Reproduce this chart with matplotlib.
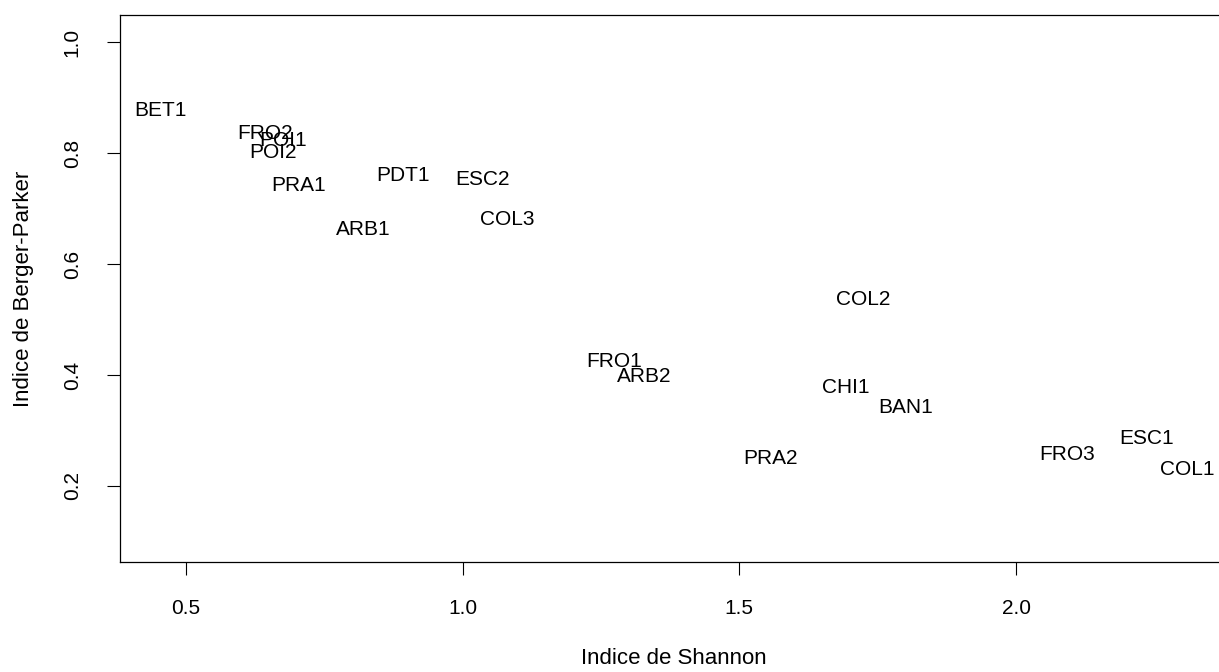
import matplotlib.pyplot as plt

plt.rcParams['font.family'] = ['Liberation Sans', 'DejaVu Sans']

sites = ['BET1', 'FRO2', 'POI1', 'POI2', 'PRA1', 'PDT1', 'ESC2', 'COL3', 'ARB1',
         'COL2', 'FRO1', 'ARB2', 'CHI1', 'BAN1', 'PRA2', 'FRO3', 'ESC1', 'COL1']
shannon = [0.455, 0.643, 0.675, 0.657, 0.704, 0.892, 1.036, 1.081, 0.821,
           1.724, 1.274, 1.329, 1.693, 1.801, 1.556, 2.092, 2.236, 2.309]
berger = [0.877, 0.836, 0.823, 0.802, 0.742, 0.759, 0.753, 0.681, 0.663,
          0.537, 0.425, 0.398, 0.377, 0.341, 0.249, 0.256, 0.286, 0.229]

fig = plt.figure(figsize=(12.19, 6.72), dpi=100)
ax = fig.add_axes([0.0984, 0.1637, 0.909, 0.814])

fs = 15

# labels only, centred on each site's coordinates
for s, x, y in zip(sites, shannon, berger):
    ax.text(x, y, s, ha='center', va='center', fontsize=fs)

ax.set_xlim(0.381, 2.383)
ax.set_ylim(0.063, 1.049)
ax.set_xticks([0.5, 1.0, 1.5, 2.0])
ax.set_xticklabels(['0.5', '1.0', '1.5', '2.0'])
ax.set_yticks([0.2, 0.4, 0.6, 0.8, 1.0])
ax.set_yticklabels(['0.2', '0.4', '0.6', '0.8', '1.0'], rotation=90, va='center')

ax.tick_params(axis='both', length=9.5, width=0.8, labelsize=fs)
ax.tick_params(axis='x', pad=17)
ax.tick_params(axis='y', pad=18)
for sp in ax.spines.values():
    sp.set_linewidth(0.9)

ax.set_xlabel('Indice de Shannon', fontsize=16, labelpad=22)
ax.set_ylabel('Indice de Berger-Parker', fontsize=16, labelpad=21)

fig.savefig('out.png', dpi=100)
